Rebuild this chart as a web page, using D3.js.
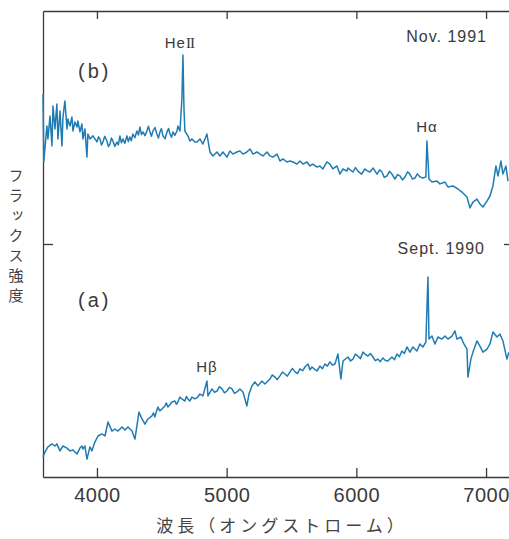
<!DOCTYPE html>
<html>
<head>
<meta charset="utf-8">
<script src="https://cdn.jsdelivr.net/npm/d3@7"></script>
<style>
  body { margin: 0; background: #fff; }
  svg { display: block; }
  .axis path, .axis line { stroke: #3a3a3a; stroke-width: 1.3; }
  .axis text { font-family: "Liberation Sans", Arial, sans-serif; font-size: 20px; fill: #3a3a3a; }
  .note { font-family: "Liberation Sans", Arial, sans-serif; fill: #3a3a3a; }
  .jp { font-family: "Noto Sans CJK JP", sans-serif; fill: #444; }
</style>
</head>
<body>
<div id="chart"></div>
<script>
// Spectrum (b), Nov. 1991: wavelength (angstrom) and relative flux
const waveB = [3584, 3590, 3614, 3622, 3638, 3653, 3661, 3676, 3691, 3699,
  3715, 3730, 3738, 3753, 3769, 3776, 3792, 3807, 3815, 3830,
  3846, 3853, 3869, 3884, 3892, 3907, 3923, 3930, 3946, 3969,
  4000, 4012, 4023, 4035, 4046, 4060, 4077, 4088, 4100, 4112,
  4123, 4138, 4154, 4165, 4177, 4188, 4200, 4215, 4231, 4242,
  4254, 4265, 4277, 4292, 4308, 4320, 4331, 4343, 4355, 4370,
  4385, 4397, 4409, 4420, 4432, 4447, 4462, 4474, 4486, 4497,
  4509, 4525, 4540, 4552, 4563, 4575, 4586, 4600, 4617, 4624,
  4640, 4655, 4663, 4671,
  4678, 4701, 4717, 4732, 4755, 4771, 4794, 4817, 4848, 4871,
  4894, 4925, 4948, 4971, 5002, 5025, 5048, 5079, 5102, 5126,
  5156, 5180, 5203, 5234, 5257, 5280, 5311, 5334, 5357, 5388,
  5411, 5434, 5465, 5488, 5511, 5542, 5565, 5588, 5619, 5642,
  5665, 5696, 5719, 5742, 5773, 5796, 5819, 5850, 5873, 5897,
  5927, 5935, 5974, 5993, 6012, 6040, 6066, 6085, 6105, 6130,
  6159, 6180, 6197, 6215, 6236, 6255, 6274, 6297, 6318, 6336,
  6355, 6375, 6395, 6413, 6432, 6452, 6470, 6490, 6513, 6536,
  6544, 6560,
  6583, 6621, 6644, 6683, 6706, 6745, 6783, 6814, 6853, 6876,
  6899, 6930, 6953, 6976, 7007, 7030, 7053, 7076, 7092, 7115,
  7130, 7153, 7169];
const fluxB = [164.4, 135.2, 150.6, 145.1, 154.9, 142.1, 159.2, 149.4, 160.1, 145.1,
  157.1, 142.1, 154.5, 161.4, 149.4, 153.6, 150.6, 154.5, 148.5, 152.4,
  150.2, 152.8, 148.1, 151.5, 145.1, 149.4, 137.3, 147.2, 145.1, 146.4,
  143.8, 146.0, 145.1, 142.5, 143.8, 146.2, 144.2, 141.8, 142.9, 145.5,
  144.2, 141.9, 143.8, 142.5, 146.4, 143.5, 145.1, 143.2, 146.4, 144.0,
  145.9, 144.3, 147.2, 145.6, 148.5, 146.8, 150.2, 147.0, 148.1, 146.5,
  148.5, 150.5, 148.1, 146.2, 148.5, 150.0, 147.2, 145.5, 148.1, 149.5,
  146.4, 145.2, 148.1, 149.6, 147.2, 145.8, 148.1, 146.6, 148.5, 150.6,
  148.5, 162.2, 181.1, 157.9,
  148.5, 146.4, 144.2, 145.1, 143.8, 143.8, 145.1, 142.9, 147.2, 139.5,
  137.8, 139.5, 137.8, 139.5, 137.3, 139.9, 138.6, 139.5, 139.9, 138.6,
  139.5, 140.8, 138.6, 139.5, 138.6, 137.8, 139.5, 137.8, 137.3, 138.6,
  135.6, 136.5, 135.2, 135.6, 135.2, 134.3, 135.6, 134.3, 135.2, 133.5,
  134.3, 133.0, 133.5, 132.2, 135.2, 134.3, 132.2, 133.5, 130.0, 132.2,
  131.3, 132.6, 130.9, 132.8, 131.3, 130.0, 132.2, 131.4, 130.9, 132.6,
  130.0, 131.8, 130.9, 128.6, 129.2, 131.2, 130.0, 127.9, 129.8, 129.2,
  127.5, 128.8, 131.0, 130.0, 127.9, 128.3, 130.1, 128.8, 128.3, 128.8,
  144.2, 127.9,
  126.6, 127.0, 125.8, 126.6, 124.5, 124.9, 123.6, 122.3, 120.2, 115.5,
  118.0, 119.3, 117.2, 115.9, 118.4, 120.6, 124.9, 133.5, 129.2, 135.6,
  130.0, 133.5, 127.0];

// Spectrum (a), Sept. 1990
const waveA = [3584, 3599, 3622, 3653, 3676, 3691, 3715, 3738, 3769, 3792,
  3815, 3846, 3869, 3884, 3892, 3907, 3923, 3946, 3961, 3984,
  4008, 4038, 4062, 4085, 4116, 4139, 4162, 4193, 4216, 4239,
  4270, 4293, 4308, 4324, 4347, 4370, 4393, 4424, 4436, 4447,
  4458, 4470, 4485, 4501, 4524, 4535, 4547, 4562, 4578, 4601,
  4612, 4624, 4640, 4655, 4678, 4690, 4701, 4716, 4732, 4755,
  4775, 4794, 4817, 4848, 4856, 4887, 4906, 4925, 4944, 4964,
  4983, 5002, 5021, 5041, 5060, 5079, 5102, 5126, 5156, 5172,
  5195, 5218, 5241, 5272, 5295, 5334, 5352, 5372, 5390, 5411,
  5430, 5449, 5468, 5488, 5507, 5527, 5546, 5565, 5585, 5604,
  5627, 5642, 5658, 5677, 5696, 5719, 5738, 5758, 5777, 5796,
  5815, 5835, 5858, 5881, 5897, 5935, 5955, 5974, 5993, 6012,
  6031, 6051, 6070, 6089, 6108, 6128, 6147, 6166, 6185, 6205,
  6224, 6243, 6274, 6294, 6313, 6332, 6351, 6370, 6390, 6413,
  6436, 6467, 6490, 6513, 6536, 6544, 6552, 6560, 6583, 6606,
  6629, 6660, 6683, 6706, 6737, 6760, 6776, 6806, 6829, 6853,
  6860, 6883, 6899, 6930, 6953, 6976, 7007, 7030, 7053, 7084,
  7107, 7130, 7161, 7176];
const fluxA = [8.6, 10.7, 12.9, 14.2, 13.3, 14.2, 11.2, 13.3, 12.4, 11.2,
  11.6, 9.9, 12.4, 13.3, 12.0, 13.3, 7.7, 12.9, 11.2, 15.0,
  17.6, 18.5, 17.6, 23.6, 19.7, 20.6, 19.7, 21.5, 20.2, 21.5,
  19.7, 16.3, 21.9, 27.9, 24.9, 22.7, 24.9, 26.2, 27.5, 25.8,
  28.0, 30.0, 28.4, 29.2, 30.5, 31.8, 30.0, 31.0, 32.2, 32.6,
  31.2, 32.2, 34.3, 33.5, 32.6, 34.6, 33.5, 32.6, 34.3, 33.5,
  34.2, 35.6, 34.8, 41.2, 34.8, 37.8, 36.3, 36.9, 38.8, 37.8,
  36.1, 36.9, 38.5, 37.8, 35.9, 36.5, 37.8, 36.5, 30.5, 35.6,
  39.1, 40.8, 39.1, 41.2, 39.9, 42.1, 43.8, 42.9, 41.8, 43.4,
  45.0, 44.2, 43.3, 45.1, 46.6, 45.1, 44.4, 46.4, 45.6, 47.2,
  48.5, 46.0, 47.2, 46.3, 45.5, 47.6, 46.5, 48.5, 47.6, 49.4,
  48.0, 48.5, 52.8, 42.1, 49.8, 51.5, 49.8, 50.6, 52.8, 51.9,
  50.8, 53.6, 52.6, 51.9, 53.0, 51.5, 49.9, 50.6, 49.5, 51.1,
  50.0, 49.8, 51.5, 50.3, 52.8, 51.6, 54.1, 53.0, 55.8, 53.6,
  55.8, 54.1, 57.1, 55.8, 57.9, 72.1, 85.8, 59.2, 60.5, 57.1,
  60.1, 59.2, 60.5, 59.2, 60.5, 62.7, 59.2, 60.1, 57.1, 54.9,
  42.9, 50.6, 53.6, 58.4, 56.2, 53.6, 54.9, 57.1, 62.2, 60.1,
  61.4, 58.4, 50.6, 53.6];

const xTicks = [4000, 5000, 6000, 7000];

// Labels on the plot: [text, wavelength, flux]
const lineLabels = [
  ["Hα", 6544, 148],
  ["Hβ", 4848, 45]
];

const W = 509, H = 539;

const x = d3.scaleLinear().domain([3584, 7200]).range([43, 512]);
const y = d3.scaleLinear().domain([0, 200]).range([477, 11]);

const svg = d3.select("#chart").append("svg")
  .attr("width", W).attr("height", H);

// axes, ticks pointing inward
svg.append("g").attr("class", "axis")
  .attr("transform", `translate(0,${y(0)})`)
  .call(d3.axisBottom(x).tickValues(xTicks).tickFormat(d3.format("d"))
    .tickSizeInner(-9).tickSizeOuter(0).tickPadding(11));

svg.append("g").attr("class", "axis")
  .attr("transform", `translate(0,${y(200)})`)
  .call(d3.axisTop(x).tickValues(xTicks).tickFormat("")
    .tickSizeInner(-8).tickSizeOuter(0));

svg.append("g").attr("class", "axis")
  .attr("transform", `translate(${x(3584)},0)`)
  .call(d3.axisLeft(y).tickValues([100]).tickFormat("")
    .tickSizeInner(-10).tickSizeOuter(0));

svg.append("g").attr("class", "axis")
  .attr("transform", `translate(${x(7200)},0)`)
  .call(d3.axisRight(y).tickValues([100]).tickFormat("")
    .tickSizeInner(-8).tickSizeOuter(0));

svg.selectAll(".axis text").attr("dy", "0.71em").attr("letter-spacing", 0.5);

// spectra
const line = d3.line().x(d => x(d[0])).y(d => y(d[1]));

[d3.zip(waveB, fluxB), d3.zip(waveA, fluxA)].forEach(pts => {
  svg.append("path")
    .datum(pts)
    .attr("fill", "none")
    .attr("stroke", "#1f7cb2")
    .attr("stroke-width", 1.5)
    .attr("stroke-linejoin", "round")
    .attr("d", line);
});

// annotations
svg.append("text").attr("class", "note")
  .attr("x", 78).attr("y", 78)
  .attr("font-size", 20).attr("letter-spacing", 3)
  .text("(b)");

svg.append("text").attr("class", "note")
  .attr("x", 78).attr("y", 307)
  .attr("font-size", 20).attr("letter-spacing", 3)
  .text("(a)");

svg.append("text").attr("class", "note")
  .attr("x", 487).attr("y", 42).attr("text-anchor", "end")
  .attr("font-size", 16).attr("letter-spacing", 1)
  .text("Nov.  1991");

svg.append("text").attr("class", "note")
  .attr("x", 485).attr("y", 254).attr("text-anchor", "end")
  .attr("font-size", 16).attr("letter-spacing", 1)
  .text("Sept.  1990");

const he = svg.append("text").attr("class", "note")
  .attr("x", x(4663) + 11).attr("y", 48).attr("text-anchor", "end")
  .attr("font-size", 15).attr("letter-spacing", 1);
he.append("tspan").text("He");
he.append("tspan").attr("font-family", "Liberation Serif").attr("letter-spacing", -1).text("II");

svg.selectAll(".lbl")
  .data(lineLabels)
  .enter()
  .append("text")
  .attr("class", "note")
  .attr("x", d => x(d[1]))
  .attr("y", d => y(d[2]))
  .attr("text-anchor", "middle")
  .attr("font-size", 15)
  .attr("letter-spacing", 1)
  .text(d => d[0]);

// axis titles
svg.append("text").attr("class", "jp")
  .attr("x", 282).attr("y", 532).attr("text-anchor", "middle")
  .attr("font-size", 17).attr("letter-spacing", 4)
  .text("波長（オングストローム）");

svg.append("text").attr("class", "jp")
  .attr("transform", "translate(16,168)")
  .attr("writing-mode", "vertical-rl")
  .attr("font-size", 15).attr("letter-spacing", 5)
  .text("フラックス強度");
</script>
</body>
</html>
